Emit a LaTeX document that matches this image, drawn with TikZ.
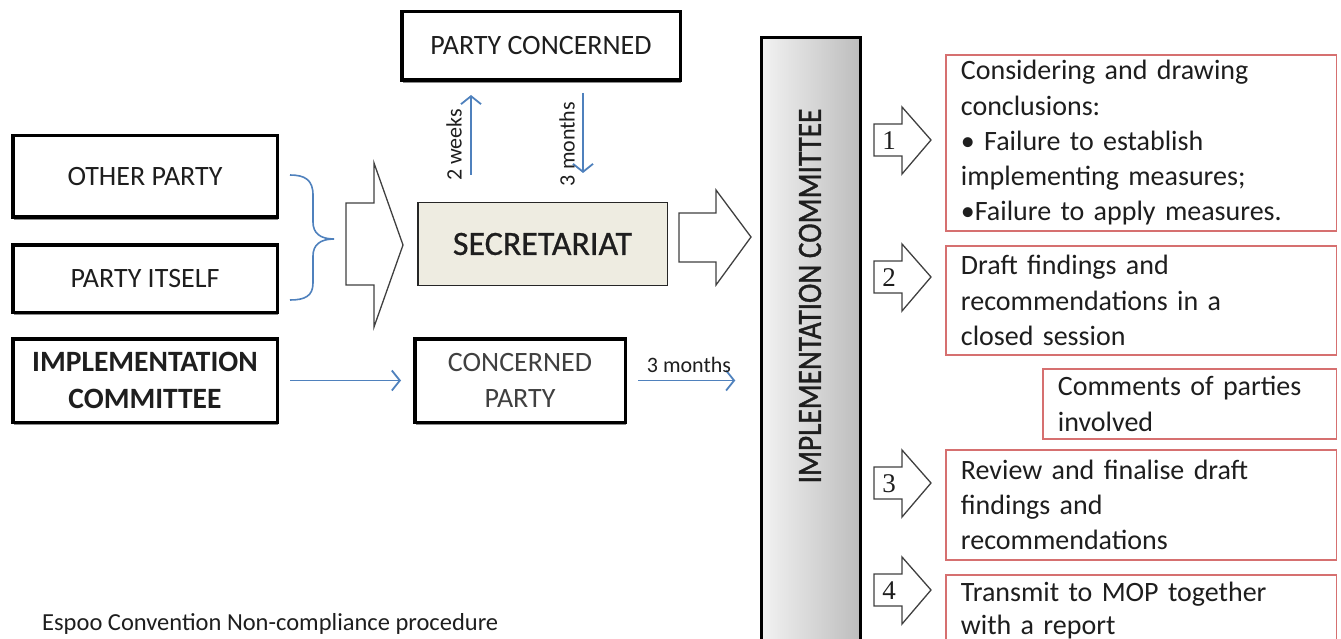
\documentclass[tikz,border=0pt]{standalone}
\usepackage{fontspec}
\setmainfont{Carlito}
\newfontfamily\numfont{Liberation Serif}
\newfontfamily\semibfont[FakeBold=1.2]{Carlito}
\newfontfamily\medfont[FakeBold=0.7]{Carlito}
\usetikzlibrary{arrows.meta,shadows}
\definecolor{blueline}{RGB}{79,129,189}
\definecolor{redline}{RGB}{214,112,112}
\definecolor{secfill}{RGB}{238,236,225}
\definecolor{txt}{RGB}{30,30,30}
\begin{document}
\begin{tikzpicture}[x=1pt,y=-1pt,
  thickbox/.style={draw=black, line width=3.5pt, fill=white, rectangle, inner sep=0pt,
    align=center, text=txt, font=\fontsize{28}{36}\selectfont,
    drop shadow={shadow xshift=1pt, shadow yshift=-3pt, fill=black!45, opacity=1}},
  redbox/.style={draw=redline, line width=1.8pt, fill=white, rectangle, anchor=north west,
    inner xsep=15pt, inner ysep=0pt, align=left, text=txt,
    font=\fontsize{28}{35.3}\selectfont},
  flow/.style={draw=blueline, line width=1.8pt,
    -{Straight Barb[length=8pt,width=20pt,line width=1.8pt]}},
  blockarrow/.style={draw=black!75, line width=1.3pt, fill=white, line join=miter},
  numlabel/.style={font=\numfont\fontsize{27}{27}\selectfont, text=txt, inner sep=0pt},
  lbl/.style={font=\fontsize{22}{22}\selectfont, text=txt, inner sep=0pt}]

\useasboundingbox (0,0) rectangle (1341,639);

% left column
\node[thickbox, minimum width=264.5, minimum height=81.5] (op) at (145,176.5) {OTHER PARTY};
\node[thickbox, minimum width=264.5, minimum height=67.5] (pi) at (145,278.5) {PARTY ITSELF};
\node[thickbox, minimum width=264.5, minimum height=83.5, font=\bfseries\fontsize{29.5}{37}\selectfont]
  (icl) at (145,380.5) {IMPLEMENTATION\\COMMITTEE};

% brace
\draw[blueline, line width=1.6pt] (290,175) .. controls (305,175) and (313,180) .. (313,195)
  -- (313,222) .. controls (313,233) and (320,239) .. (334,239)
  .. controls (320,239) and (313,245) .. (313,256)
  -- (313,283) .. controls (313,296) and (305,300) .. (290,300);

% big arrow left
\draw[blockarrow] (346,203) -- (374,203) -- (374,163) -- (403,245) -- (374,327)
  -- (374,285) -- (346,285) -- cycle;

% centre column
\node[thickbox, minimum width=278.5, minimum height=68.5] (pc) at (541,46) {PARTY CONCERNED};
\node[draw=black!85, line width=1.5pt, fill=secfill, minimum width=249.5, minimum height=82.5,
  inner sep=0pt, text=txt, font=\medfont\fontsize{34}{34}\selectfont] (sec) at (542.5,244) {SECRETARIAT};
\node[thickbox, minimum width=210.5, minimum height=83.5, text=black!75,
  font=\fontsize{28}{36.5}\selectfont] (cp) at (520,380.5) {CONCERNED\\PARTY};

\coordinate (wk) at (471,0);
\coordinate (mo) at (583,0);
\draw[flow, shorten <=27pt, shorten >=13pt] (sec.north -| wk) -- (pc.south -| wk);
\draw[flow, shorten <=11pt, shorten >=29pt] (pc.south -| mo) -- (sec.north -| mo);
\node[lbl, rotate=90] (lwk) at (454,145) {2 weeks};
\node[lbl, rotate=90] (lmo) at (567,144) {3 months};

% big arrow right
\draw[blockarrow] (679,213) -- (716,213) -- (716,190) -- (751,237) -- (716,285)
  -- (716,262) -- (679,262) -- cycle;

% tall implementation committee
\node[draw=black, line width=3pt, left color=black!5, right color=black!26, anchor=north,
  minimum width=98.5, minimum height=640, inner sep=0pt] (ict) at (811,36.5) {};
\node[rotate=90, text=txt, inner sep=0pt, font=\semibfont\fontsize{34}{34}\selectfont] (ictl) at (810,296)
  {\scalebox{0.86}[1]{IMPLEMENTATION COMMITTEE}};

% lower flows
\draw[flow, shorten <=11pt, shorten >=12pt] (icl.east) -- (icl.east -| cp.west);
\draw[flow, shorten <=11pt, shorten >=25pt] (cp.east) -- (cp.east -| ict.west);
\node[lbl] (l3m) at (689,365) {3 months};

% numbered arrows
\foreach \t/\n in {140/1,277/2,483/3,590/4}{
  \draw[blockarrow] (874,\t-16) -- (902,\t-16) -- (902,\t-33) -- (931,\t) -- (902,\t+34)
    -- (902,\t+16) -- (874,\t+16) -- cycle;
  \node[numlabel] (num\n) at (889,\t+1) {\n};
}

% red boxes
\node[redbox, minimum width=390.5, minimum height=176, text width=360.5] (b1) at (945,54)
  {Considering and drawing\\conclusions:\\• Failure to establish\\implementing measures;\\•Failure to apply measures.};
\node[redbox, minimum width=390.5, minimum height=109, text width=360.5] (b2) at (945,245)
  {Draft findings and\\recommendations in a\\closed session};
\node[redbox, minimum width=293.5, minimum height=70, text width=263.5] (cm) at (1042,368)
  {Comments of parties\\involved};
\node[redbox, minimum width=390.5, minimum height=71, text width=360.5,
  font=\fontsize{28}{33.5}\selectfont] (b4) at (945,574)
  {Transmit to MOP together\\with a report};
\node[redbox, minimum width=390.5, minimum height=110, text width=360.5] (b3) at (945,449)
  {Review and finalise draft\\findings and\\recommendations};

% caption
\node[lbl, anchor=west, font=\fontsize{24.5}{24.5}\selectfont] (cap) at (42,624) {Espoo Convention Non-compliance procedure};
\end{tikzpicture}
\end{document}
